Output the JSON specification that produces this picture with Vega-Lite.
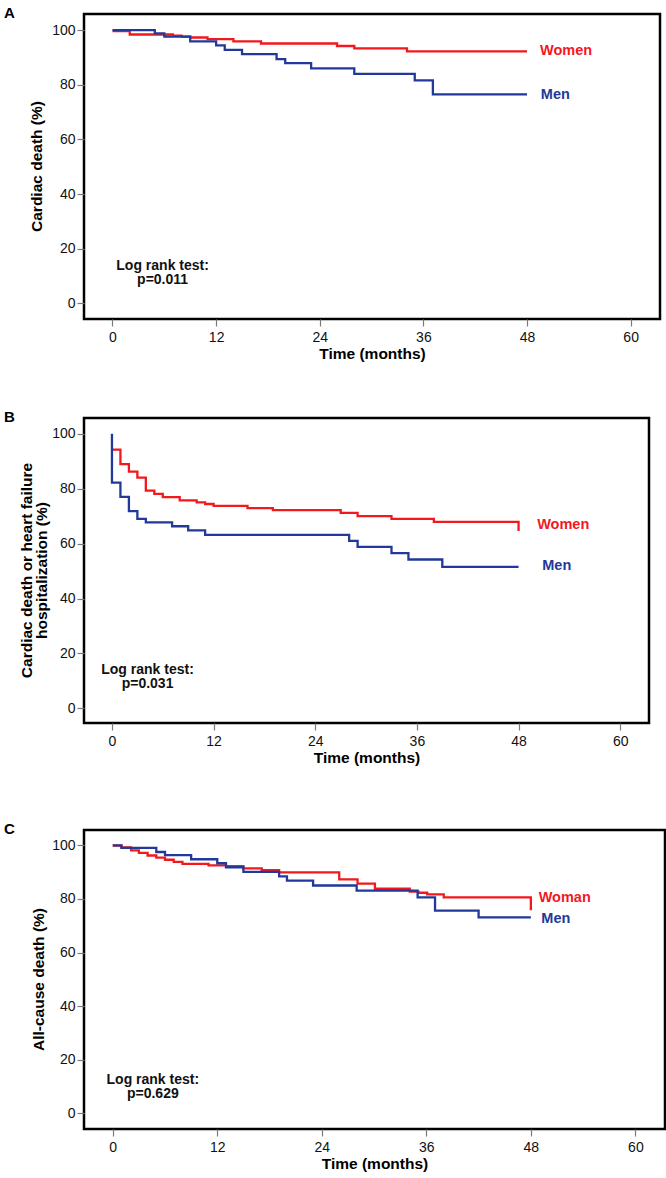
{
  "$schema": "https://vega.github.io/schema/vega-lite/v6.json",
  "background": "white",
  "padding": {"left": 2, "top": 4, "right": 2, "bottom": 2},
  "bounds": "flush",
  "spacing": 99,
  "config": {
    "font": "Liberation Sans",
    "view": {"stroke": "#000", "strokeWidth": 2.5},
    "axis": {"grid": false, "domain": false, "tickColor": "#7a7a7a", "tickSize": 7, "tickWidth": 1.2, "labelFontSize": 14, "labelColor": "#111", "labelFont": "Liberation Sans", "labelPadding": 2, "titleFont": "Liberation Sans", "titleFontSize": 15.5, "titleFontWeight": "bold", "titleColor": "#000"},
    "axisX": {"labelPadding": 4, "titlePadding": 2},
    "title": {"anchor": "start", "frame": "group", "fontSize": 15, "fontWeight": "bold", "color": "#000", "font": "Liberation Sans", "dx": -80, "offset": -7}
  },
  "datasets": {
    "km": [
      {"panel": "A", "sex": "Women", "i": 0, "month": 0, "value": 99.6},
      {"panel": "A", "sex": "Women", "i": 1, "month": 2.0, "value": 98.4},
      {"panel": "A", "sex": "Women", "i": 2, "month": 7.0, "value": 98.0},
      {"panel": "A", "sex": "Women", "i": 3, "month": 8.0, "value": 97.6},
      {"panel": "A", "sex": "Women", "i": 4, "month": 9.0, "value": 97.3},
      {"panel": "A", "sex": "Women", "i": 5, "month": 11.0, "value": 96.7},
      {"panel": "A", "sex": "Women", "i": 6, "month": 14.0, "value": 95.9},
      {"panel": "A", "sex": "Women", "i": 7, "month": 17.2, "value": 95.1},
      {"panel": "A", "sex": "Women", "i": 8, "month": 26.0, "value": 94.2},
      {"panel": "A", "sex": "Women", "i": 9, "month": 28.0, "value": 93.3},
      {"panel": "A", "sex": "Women", "i": 10, "month": 34.1, "value": 92.2},
      {"panel": "A", "sex": "Women", "i": 11, "month": 48.0, "value": 92.2},
      {"panel": "A", "sex": "Men", "i": 0, "month": 0, "value": 100},
      {"panel": "A", "sex": "Men", "i": 1, "month": 4.9, "value": 98.8},
      {"panel": "A", "sex": "Men", "i": 2, "month": 6.0, "value": 97.6},
      {"panel": "A", "sex": "Men", "i": 3, "month": 9.0, "value": 95.9},
      {"panel": "A", "sex": "Men", "i": 4, "month": 12.0, "value": 94.4},
      {"panel": "A", "sex": "Men", "i": 5, "month": 13.0, "value": 92.8},
      {"panel": "A", "sex": "Men", "i": 6, "month": 15.0, "value": 91.2},
      {"panel": "A", "sex": "Men", "i": 7, "month": 19.0, "value": 89.4},
      {"panel": "A", "sex": "Men", "i": 8, "month": 20.0, "value": 87.9},
      {"panel": "A", "sex": "Men", "i": 9, "month": 23.0, "value": 86.0},
      {"panel": "A", "sex": "Men", "i": 10, "month": 28.0, "value": 84.0},
      {"panel": "A", "sex": "Men", "i": 11, "month": 35.0, "value": 81.6},
      {"panel": "A", "sex": "Men", "i": 12, "month": 37.1, "value": 76.5},
      {"panel": "A", "sex": "Men", "i": 13, "month": 48.0, "value": 76.5},
      {"panel": "B", "sex": "Women", "i": 0, "month": 0, "value": 94.2},
      {"panel": "B", "sex": "Women", "i": 1, "month": 1.0, "value": 88.9},
      {"panel": "B", "sex": "Women", "i": 2, "month": 2.0, "value": 86.2},
      {"panel": "B", "sex": "Women", "i": 3, "month": 3.0, "value": 84.0},
      {"panel": "B", "sex": "Women", "i": 4, "month": 4.0, "value": 79.3},
      {"panel": "B", "sex": "Women", "i": 5, "month": 5.0, "value": 78.1},
      {"panel": "B", "sex": "Women", "i": 6, "month": 6.0, "value": 76.9},
      {"panel": "B", "sex": "Women", "i": 7, "month": 8.0, "value": 75.7},
      {"panel": "B", "sex": "Women", "i": 8, "month": 10.0, "value": 75.0},
      {"panel": "B", "sex": "Women", "i": 9, "month": 11.0, "value": 74.4},
      {"panel": "B", "sex": "Women", "i": 10, "month": 12.0, "value": 73.7},
      {"panel": "B", "sex": "Women", "i": 11, "month": 16.0, "value": 72.9},
      {"panel": "B", "sex": "Women", "i": 12, "month": 19.0, "value": 72.2},
      {"panel": "B", "sex": "Women", "i": 13, "month": 27.0, "value": 71.2},
      {"panel": "B", "sex": "Women", "i": 14, "month": 29.0, "value": 70.0},
      {"panel": "B", "sex": "Women", "i": 15, "month": 33.0, "value": 69.0},
      {"panel": "B", "sex": "Women", "i": 16, "month": 38.0, "value": 67.9},
      {"panel": "B", "sex": "Women", "i": 17, "month": 48.0, "value": 67.9},
      {"panel": "B", "sex": "Women", "i": 18, "month": 48.0, "value": 64.6},
      {"panel": "B", "sex": "Men", "i": 0, "month": 0, "value": 100},
      {"panel": "B", "sex": "Men", "i": 1, "month": 0, "value": 82.2},
      {"panel": "B", "sex": "Men", "i": 2, "month": 1.0, "value": 77.0},
      {"panel": "B", "sex": "Men", "i": 3, "month": 2.0, "value": 71.8},
      {"panel": "B", "sex": "Men", "i": 4, "month": 3.0, "value": 69.0},
      {"panel": "B", "sex": "Men", "i": 5, "month": 4.0, "value": 67.7},
      {"panel": "B", "sex": "Men", "i": 6, "month": 7.1, "value": 66.3},
      {"panel": "B", "sex": "Men", "i": 7, "month": 9.0, "value": 64.8},
      {"panel": "B", "sex": "Men", "i": 8, "month": 11.0, "value": 63.2},
      {"panel": "B", "sex": "Men", "i": 9, "month": 28.0, "value": 61.0},
      {"panel": "B", "sex": "Men", "i": 10, "month": 29.0, "value": 58.8},
      {"panel": "B", "sex": "Men", "i": 11, "month": 33.0, "value": 56.5},
      {"panel": "B", "sex": "Men", "i": 12, "month": 35.0, "value": 54.2},
      {"panel": "B", "sex": "Men", "i": 13, "month": 39.0, "value": 51.5},
      {"panel": "B", "sex": "Men", "i": 14, "month": 48.0, "value": 51.5},
      {"panel": "C", "sex": "Women", "i": 0, "month": 0, "value": 99.9},
      {"panel": "C", "sex": "Women", "i": 1, "month": 1.0, "value": 99.2},
      {"panel": "C", "sex": "Women", "i": 2, "month": 2.1, "value": 98.1},
      {"panel": "C", "sex": "Women", "i": 3, "month": 3.0, "value": 97.2},
      {"panel": "C", "sex": "Women", "i": 4, "month": 4.0, "value": 96.2},
      {"panel": "C", "sex": "Women", "i": 5, "month": 5.0, "value": 95.4},
      {"panel": "C", "sex": "Women", "i": 6, "month": 6.0, "value": 94.6},
      {"panel": "C", "sex": "Women", "i": 7, "month": 7.0, "value": 93.8},
      {"panel": "C", "sex": "Women", "i": 8, "month": 8.0, "value": 93.1},
      {"panel": "C", "sex": "Women", "i": 9, "month": 11.0, "value": 92.5},
      {"panel": "C", "sex": "Women", "i": 10, "month": 13.0, "value": 92.2},
      {"panel": "C", "sex": "Women", "i": 11, "month": 15.0, "value": 91.4},
      {"panel": "C", "sex": "Women", "i": 12, "month": 17.1, "value": 90.7},
      {"panel": "C", "sex": "Women", "i": 13, "month": 19.1, "value": 89.9},
      {"panel": "C", "sex": "Women", "i": 14, "month": 26.0, "value": 87.3},
      {"panel": "C", "sex": "Women", "i": 15, "month": 28.1, "value": 85.7},
      {"panel": "C", "sex": "Women", "i": 16, "month": 30.1, "value": 83.8},
      {"panel": "C", "sex": "Women", "i": 17, "month": 34.1, "value": 82.7},
      {"panel": "C", "sex": "Women", "i": 18, "month": 35.1, "value": 82.3},
      {"panel": "C", "sex": "Women", "i": 19, "month": 36.1, "value": 81.7},
      {"panel": "C", "sex": "Women", "i": 20, "month": 38.0, "value": 80.6},
      {"panel": "C", "sex": "Women", "i": 21, "month": 48.0, "value": 80.6},
      {"panel": "C", "sex": "Women", "i": 22, "month": 48.0, "value": 75.8},
      {"panel": "C", "sex": "Men", "i": 0, "month": 0, "value": 100},
      {"panel": "C", "sex": "Men", "i": 1, "month": 1.0, "value": 99.0},
      {"panel": "C", "sex": "Men", "i": 2, "month": 5.0, "value": 97.5},
      {"panel": "C", "sex": "Men", "i": 3, "month": 6.0, "value": 96.3},
      {"panel": "C", "sex": "Men", "i": 4, "month": 9.0, "value": 94.8},
      {"panel": "C", "sex": "Men", "i": 5, "month": 12.0, "value": 93.3},
      {"panel": "C", "sex": "Men", "i": 6, "month": 13.0, "value": 91.8},
      {"panel": "C", "sex": "Men", "i": 7, "month": 15.0, "value": 90.1},
      {"panel": "C", "sex": "Men", "i": 8, "month": 19.1, "value": 88.4},
      {"panel": "C", "sex": "Men", "i": 9, "month": 20.0, "value": 86.8},
      {"panel": "C", "sex": "Men", "i": 10, "month": 23.0, "value": 85.0},
      {"panel": "C", "sex": "Men", "i": 11, "month": 28.0, "value": 83.1},
      {"panel": "C", "sex": "Men", "i": 12, "month": 35.0, "value": 80.6},
      {"panel": "C", "sex": "Men", "i": 13, "month": 37.0, "value": 75.6},
      {"panel": "C", "sex": "Men", "i": 14, "month": 42.0, "value": 73.1},
      {"panel": "C", "sex": "Men", "i": 15, "month": 48.0, "value": 73.1}
    ],
    "labels": [
      {"panel": "A", "sex": "Women", "label": "Women", "month": 49.5, "value": 92.2},
      {"panel": "A", "sex": "Men", "label": "Men", "month": 49.6, "value": 76.4},
      {"panel": "B", "sex": "Women", "label": "Women", "month": 50.2, "value": 66.8},
      {"panel": "B", "sex": "Men", "label": "Men", "month": 50.8, "value": 51.9},
      {"panel": "C", "sex": "Women", "label": "Woman", "month": 48.9, "value": 80.2},
      {"panel": "C", "sex": "Men", "label": "Men", "month": 49.2, "value": 72.4}
    ],
    "notes": [
      {"panel": "A", "note": "Log rank test:\np=0.011", "month": 5.8, "value": 13.7},
      {"panel": "B", "note": "Log rank test:\np=0.031", "month": 4.2, "value": 14.0},
      {"panel": "C", "note": "Log rank test:\np=0.629", "month": 4.6, "value": 12.3}
    ]
  },
  "vconcat": [
    {
      "title": {"text": "A"},
      "width": 576,
      "height": 305,
      "encoding": {
        "x": {"field": "month", "type": "quantitative", "scale": {"domain": [-3.3, 63.4], "nice": false, "zero": false},
              "axis": {"values": [0, 12, 24, 36, 48, 60], "title": "Time (months)"}},
        "y": {"field": "value", "type": "quantitative", "scale": {"domain": [-5.7, 105.9], "nice": false, "zero": false},
              "axis": {"values": [0, 20, 40, 60, 80, 100], "title": "Cardiac death (%)", "titleX": -40, "titleY": 152, "titleBaseline": "bottom"}}
      },
      "layer": [
        {"data": {"name": "km"}, "transform": [{"filter": "datum.panel === 'A'"}],
         "mark": {"type": "line", "interpolate": "step-after", "strokeWidth": 2.3},
         "encoding": {"color": {"field": "sex", "type": "nominal", "scale": {"domain": ["Women", "Men"], "range": ["#f2191e", "#22399b"]}, "legend": null},
                      "order": {"field": "i", "type": "quantitative"}}},
        {"data": {"name": "labels"}, "transform": [{"filter": "datum.panel === 'A'"}],
         "mark": {"type": "text", "align": "left", "baseline": "middle", "fontSize": 14.5, "fontWeight": "bold"},
         "encoding": {"text": {"field": "label"}, "color": {"field": "sex", "type": "nominal", "scale": {"domain": ["Women", "Men"], "range": ["#f2191e", "#22399b"]}, "legend": null}}},
        {"data": {"name": "notes"}, "transform": [{"filter": "datum.panel === 'A'"}],
         "mark": {"type": "text", "align": "center", "baseline": "middle", "fontSize": 14, "fontWeight": "bold", "lineBreak": "\n", "lineHeight": 14, "color": "#111"},
         "encoding": {"text": {"field": "note"}}}
      ]
    },
    {
      "bounds": "flush",
      "spacing": 107,
      "vconcat": [
        {
          "title": {"text": "B"},
          "width": 565,
          "height": 305,
          "encoding": {
            "x": {"field": "month", "type": "quantitative", "scale": {"domain": [-3.3, 63.4], "nice": false, "zero": false},
                  "axis": {"values": [0, 12, 24, 36, 48, 60], "title": "Time (months)"}},
            "y": {"field": "value", "type": "quantitative", "scale": {"domain": [-5.3, 105.7], "nice": false, "zero": false},
                  "axis": {"values": [0, 20, 40, 60, 80, 100], "title": ["Cardiac death or heart failure", "hospitalization (%)"], "titleX": -50, "titleY": 152, "titleBaseline": "bottom", "titleLineHeight": 15}}
          },
          "layer": [
            {"data": {"name": "km"}, "transform": [{"filter": "datum.panel === 'B'"}],
             "mark": {"type": "line", "interpolate": "step-after", "strokeWidth": 2.3},
             "encoding": {"color": {"field": "sex", "type": "nominal", "scale": {"domain": ["Women", "Men"], "range": ["#f2191e", "#22399b"]}, "legend": null},
                          "order": {"field": "i", "type": "quantitative"}}},
            {"data": {"name": "labels"}, "transform": [{"filter": "datum.panel === 'B'"}],
             "mark": {"type": "text", "align": "left", "baseline": "middle", "fontSize": 14.5, "fontWeight": "bold"},
             "encoding": {"text": {"field": "label"}, "color": {"field": "sex", "type": "nominal", "scale": {"domain": ["Women", "Men"], "range": ["#f2191e", "#22399b"]}, "legend": null}}},
            {"data": {"name": "notes"}, "transform": [{"filter": "datum.panel === 'B'"}],
             "mark": {"type": "text", "align": "center", "baseline": "middle", "fontSize": 14, "fontWeight": "bold", "lineBreak": "\n", "lineHeight": 14, "color": "#111"},
             "encoding": {"text": {"field": "note"}}}
          ]
        },
        {
          "title": {"text": "C"},
          "width": 581,
          "height": 299,
          "encoding": {
            "x": {"field": "month", "type": "quantitative", "scale": {"domain": [-3.3, 63.4], "nice": false, "zero": false},
                  "axis": {"values": [0, 12, 24, 36, 48, 60], "title": "Time (months)"}},
            "y": {"field": "value", "type": "quantitative", "scale": {"domain": [-5.8, 105.7], "nice": false, "zero": false},
                  "axis": {"values": [0, 20, 40, 60, 80, 100], "title": "All-cause death (%)", "titleX": -38, "titleY": 149, "titleBaseline": "bottom"}}
          },
          "layer": [
            {"data": {"name": "km"}, "transform": [{"filter": "datum.panel === 'C'"}],
             "mark": {"type": "line", "interpolate": "step-after", "strokeWidth": 2.3},
             "encoding": {"color": {"field": "sex", "type": "nominal", "scale": {"domain": ["Women", "Men"], "range": ["#f2191e", "#22399b"]}, "legend": null},
                          "order": {"field": "i", "type": "quantitative"}}},
            {"data": {"name": "labels"}, "transform": [{"filter": "datum.panel === 'C'"}],
             "mark": {"type": "text", "align": "left", "baseline": "middle", "fontSize": 14.5, "fontWeight": "bold"},
             "encoding": {"text": {"field": "label"}, "color": {"field": "sex", "type": "nominal", "scale": {"domain": ["Women", "Men"], "range": ["#f2191e", "#22399b"]}, "legend": null}}},
            {"data": {"name": "notes"}, "transform": [{"filter": "datum.panel === 'C'"}],
             "mark": {"type": "text", "align": "center", "baseline": "middle", "fontSize": 14, "fontWeight": "bold", "lineBreak": "\n", "lineHeight": 14, "color": "#111"},
             "encoding": {"text": {"field": "note"}}}
          ]
        }
      ]
    }
  ]
}
